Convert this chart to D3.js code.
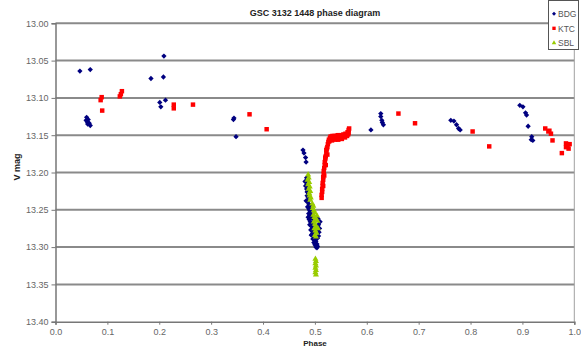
<!DOCTYPE html>
<html>
<head>
<meta charset="utf-8">
<script src="https://cdn.jsdelivr.net/npm/d3@7"></script>
<style>
  html, body { margin: 0; padding: 0; background: #fff; }
  svg { display: block; font-family: "Liberation Sans", Arial, sans-serif; }
</style>
</head>
<body>
<svg id="chart" width="581" height="347"></svg>
<script>
// Observations as [phase, V magnitude] per observer
const bdg = [
  [0.047,13.064],[0.067,13.062],
  [0.060,13.126],[0.063,13.129],[0.061,13.132],[0.065,13.134],[0.067,13.137],[0.059,13.130],[0.062,13.135],
  [0.184,13.074],[0.209,13.044],[0.208,13.072],[0.201,13.106],[0.203,13.112],[0.212,13.103],
  [0.343,13.129],[0.344,13.127],[0.348,13.152],
  [0.477,13.170],[0.479,13.174],[0.482,13.180],[0.483,13.186],
  [0.484,13.207],[0.486,13.210],[0.483,13.213],[0.485,13.216],[0.487,13.219],[0.481,13.212],[0.482,13.218],
  [0.484,13.222],[0.486,13.225],[0.488,13.228],[0.485,13.231],[0.487,13.234],[0.489,13.236],
  [0.486,13.239],[0.488,13.242],[0.490,13.244],[0.487,13.247],[0.489,13.250],[0.491,13.252],
  [0.488,13.255],[0.490,13.258],[0.492,13.260],[0.489,13.263],[0.491,13.266],[0.494,13.268],
  [0.490,13.270],[0.493,13.272],[0.496,13.274],[0.492,13.277],[0.495,13.279],[0.498,13.281],
  [0.494,13.283],[0.497,13.285],[0.500,13.287],[0.496,13.289],[0.499,13.291],[0.502,13.292],
  [0.498,13.294],[0.501,13.295],[0.504,13.296],[0.500,13.297],[0.503,13.298],[0.505,13.299],
  [0.502,13.300],[0.504,13.301],
  [0.507,13.270],[0.509,13.275],[0.508,13.280],[0.510,13.266],[0.506,13.262],
  [0.485,13.226],[0.483,13.238],[0.486,13.246],[0.492,13.248],[0.494,13.256],[0.487,13.260],
  [0.496,13.262],[0.493,13.284],[0.505,13.288],[0.507,13.285],[0.498,13.276],[0.503,13.278],
  [0.608,13.143],[0.627,13.121],[0.627,13.125],[0.629,13.130],[0.632,13.136],[0.630,13.133],
  [0.762,13.130],[0.768,13.131],[0.773,13.136],[0.777,13.141],[0.780,13.143],
  [0.895,13.110],[0.901,13.112],[0.906,13.120],[0.908,13.123],[0.911,13.138],
  [0.918,13.152],[0.920,13.157],[0.917,13.156]
];

const ktc = [
  [0.089,13.099],[0.087,13.103],[0.090,13.117],
  [0.128,13.091],[0.126,13.095],[0.124,13.098],
  [0.228,13.109],[0.228,13.114],[0.265,13.109],
  [0.374,13.122],[0.407,13.142],
  [0.513,13.234],[0.513,13.230],[0.514,13.226],[0.514,13.222],[0.515,13.218],[0.515,13.214],
  [0.516,13.210],[0.516,13.206],[0.517,13.202],[0.517,13.198],[0.518,13.194],[0.519,13.190],
  [0.519,13.186],[0.520,13.182],[0.521,13.178],[0.522,13.174],[0.522,13.170],[0.524,13.166],
  [0.525,13.162],[0.526,13.159],[0.527,13.156],[0.529,13.154],[0.530,13.152],[0.532,13.152],
  [0.534,13.151],[0.536,13.152],[0.538,13.151],[0.540,13.153],[0.542,13.151],[0.544,13.150],
  [0.546,13.152],[0.547,13.150],[0.549,13.151],[0.551,13.150],[0.553,13.151],[0.555,13.149],
  [0.557,13.150],[0.559,13.148],[0.561,13.149],[0.563,13.146],[0.565,13.143],[0.565,13.147],
  [0.562,13.151],[0.558,13.153],[0.550,13.154],[0.543,13.155],[0.535,13.155],[0.531,13.156],
  [0.528,13.158],[0.523,13.168],[0.520,13.180],
  [0.533,13.157],[0.539,13.156],[0.545,13.156],[0.552,13.155],[0.556,13.152],[0.560,13.150],
  [0.564,13.149],[0.566,13.141],[0.524,13.176],[0.521,13.190],[0.518,13.204],[0.516,13.218],
  [0.661,13.121],[0.693,13.134],[0.804,13.145],[0.836,13.165],
  [0.944,13.141],[0.950,13.145],[0.955,13.148],[0.952,13.144],[0.958,13.157],
  [0.984,13.161],[0.987,13.165],[0.989,13.168],[0.984,13.166],[0.976,13.174],[0.991,13.162]
];

const sbl = [
  [0.487,13.203],[0.488,13.207],[0.486,13.210],[0.489,13.213],[0.487,13.216],[0.490,13.219],
  [0.488,13.222],[0.491,13.225],[0.489,13.228],[0.490,13.231],[0.492,13.234],[0.491,13.237],
  [0.495,13.242],[0.497,13.245],[0.496,13.248],[0.498,13.251],[0.500,13.254],[0.497,13.257],
  [0.499,13.260],[0.501,13.263],[0.498,13.266],[0.500,13.269],[0.502,13.272],[0.499,13.275],
  [0.501,13.278],[0.503,13.281],[0.500,13.284],[0.502,13.286],
  [0.505,13.265],[0.506,13.275],[0.504,13.258],
  [0.501,13.316],[0.502,13.319],[0.501,13.322],[0.502,13.325],[0.501,13.328],[0.502,13.331],
  [0.501,13.334],[0.502,13.337]
];

const seriesNames = ["BDG", "KTC", "SBL"];
const yTicks = [13.00, 13.05, 13.10, 13.15, 13.20, 13.25, 13.30, 13.35, 13.40];
const xTicks = [0.0, 0.1, 0.2, 0.3, 0.4, 0.5, 0.6, 0.7, 0.8, 0.9, 1.0];
const titleText = "GSC 3132 1448 phase diagram";
const xLabel = "Phase";
const yLabel = "V mag";

const svg = d3.select("#chart");
const plotL = 55.5, plotR = 574.3, plotT = 23.3, plotB = 321.7;

const x = d3.scaleLinear().domain([0, 1]).range([plotL, plotR]);
const y = d3.scaleLinear().domain([13.0, 13.4]).range([plotT, plotB]);

// horizontal gridlines
svg.append("g").selectAll("line")
  .data(yTicks.slice(0, -1))
  .join("line")
  .attr("x1", plotL).attr("x2", plotR)
  .attr("y1", d => y(d)).attr("y2", d => y(d))
  .attr("stroke", "#8a8a8a").attr("stroke-width", 2);

// right border of plot area
svg.append("line")
  .attr("x1", plotR).attr("x2", plotR).attr("y1", plotT).attr("y2", plotB)
  .attr("stroke", "#a0a0a0").attr("stroke-width", 1);

// axes
const yAxis = d3.axisLeft(y).tickValues(yTicks).tickFormat(d3.format(".2f")).tickSize(4).tickPadding(3);
const xAxis = d3.axisBottom(x).tickValues(xTicks).tickFormat(d3.format(".1f")).tickSize(3).tickPadding(4);

const gy = svg.append("g").attr("transform", `translate(${plotL},0)`).call(yAxis);
const gx = svg.append("g").attr("transform", `translate(0,${plotB})`).call(xAxis);
[gx, gy].forEach(g => {
  g.select(".domain").attr("stroke", "#777").attr("stroke-width", 1.5);
  g.selectAll(".tick line").attr("stroke", "#777");
  g.selectAll(".tick text").attr("fill", "#666").attr("font-size", 9)
    .attr("font-family", "'Liberation Sans', Arial, sans-serif");
});

// markers
const diamond = d3.symbol().type(d3.symbolSquare).size(14);
const square = d3.symbol().type(d3.symbolSquare).size(20);
const triangle = d3.symbol().type(d3.symbolTriangle).size(16);

const series = [
  { name: seriesNames[0], data: bdg, color: "#000080", path: diamond(), rot: 45 },
  { name: seriesNames[1], data: ktc, color: "#ff0000", path: square(), rot: 0 },
  { name: seriesNames[2], data: sbl, color: "#99cc00", path: triangle(), rot: 0 }
];

series.forEach(s => {
  svg.append("g").selectAll("path")
    .data(s.data)
    .join("path")
    .attr("d", s.path)
    .attr("transform", d => `translate(${x(d[0])},${y(d[1])}) rotate(${s.rot})`)
    .attr("fill", s.color);
});

// title and axis titles
svg.append("text")
  .attr("x", 315).attr("y", 16)
  .attr("text-anchor", "middle")
  .attr("font-size", 9).attr("font-weight", "bold").attr("fill", "#222")
  .text(titleText);

svg.append("text")
  .attr("x", 315).attr("y", 346.3)
  .attr("text-anchor", "middle")
  .attr("font-size", 8).attr("font-weight", "bold").attr("fill", "#222")
  .text(xLabel);

svg.append("text")
  .attr("transform", "translate(20,167) rotate(-90)")
  .attr("text-anchor", "middle")
  .attr("font-size", 9).attr("font-weight", "bold").attr("fill", "#222")
  .text(yLabel);

// legend
const lg = svg.append("g").attr("transform", "translate(548,0)");
lg.append("rect")
  .attr("x", 0.5).attr("y", 0.5).attr("width", 30).attr("height", 49)
  .attr("fill", "#fff").attr("stroke", "#555").attr("stroke-width", 1);
lg.selectAll("g.item")
  .data(series)
  .join("g")
  .attr("class", "item")
  .attr("transform", (d, i) => `translate(0,${13.7 + i * 14.6})`)
  .each(function (d) {
    const g = d3.select(this);
    g.append("path")
      .attr("d", d.path)
      .attr("transform", `translate(6,0) rotate(${d.rot}) scale(0.75)`)
      .attr("fill", d.color);
    g.append("text")
      .attr("x", 10).attr("y", 3.2)
      .attr("font-size", 8.5).attr("fill", "#555")
      .text(d.name);
  });
</script>
</body>
</html>
